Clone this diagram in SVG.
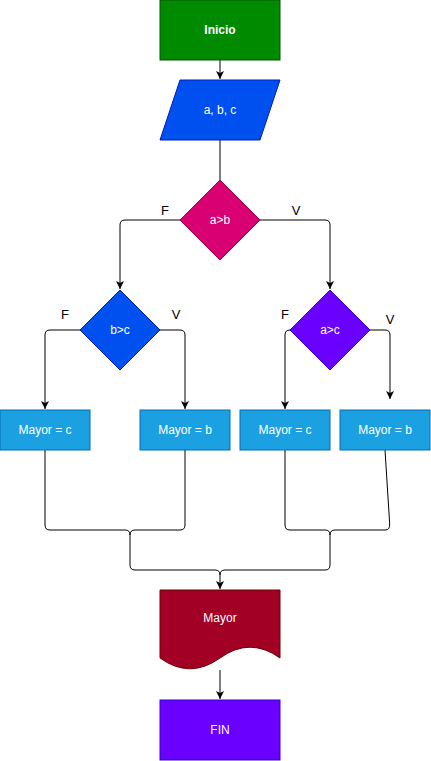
<svg xmlns="http://www.w3.org/2000/svg" width="431" height="761" viewBox="0 0 431 761">
<style>
.t{font-family:"Liberation Sans",Arial,sans-serif;font-size:12px;fill:#fff;text-anchor:middle;dominant-baseline:central}
.l{font-family:"Liberation Sans",Arial,sans-serif;font-size:13px;fill:#000;text-anchor:middle;dominant-baseline:central}
.e{fill:none;stroke:#000;stroke-width:1}
.box{fill:#1ba1e2;stroke:#006eaf}
</style>
<defs>
<marker id="ar" markerWidth="10" markerHeight="10" refX="8" refY="4" orient="auto" markerUnits="userSpaceOnUse">
<path d="M0,0 L8,4 L0,8 L2,4 Z" fill="#000"/>
</marker>
</defs>
<g id="connectors">
<path class="e" d="M220,60 V79" marker-end="url(#ar)"/>
<path class="e" d="M220,140 V180"/>
<path class="e" d="M180,220 H125 Q120,220 120,225 V289" marker-end="url(#ar)"/>
<path class="e" d="M260,220 H325 Q330,220 330,225 V289" marker-end="url(#ar)"/>
<path class="e" d="M80,330 H50 Q45,330 45,335 V409" marker-end="url(#ar)"/>
<path class="e" d="M160,330 H180 Q185,330 185,335 V409" marker-end="url(#ar)"/>
<path class="e" d="M290,330 Q285,330 285,335 V409" marker-end="url(#ar)"/>
<path class="e" d="M370,330 H385 Q390,330 390,335 V399" marker-end="url(#ar)"/>
<path class="e" d="M45,450 V525 Q45,530 50,530 H125 Q130,530 130,535 V565 Q130,570 135,570 H215 Q220,570 220,575 V589" marker-end="url(#ar)"/>
<path class="e" d="M185,450 V525 Q185,530 180,530 H135 Q130,530 130,535"/>
<path class="e" d="M285,450 V525 Q285,530 290,530 H325 Q330,530 330,535 V565 Q330,570 325,570 H225 Q220,570 220,575"/>
<path class="e" d="M385,450 L389.7,524 Q390,530 385,530 H335 Q330,530 330,535"/>
<path class="e" d="M220,670 V699" marker-end="url(#ar)"/>
</g>
<g id="inicio">
<rect x="160" y="0" width="120" height="60" fill="#008a00" stroke="#005700"/>
<text class="t" x="220" y="30" font-weight="bold">Inicio</text>
</g>
<g id="entrada">
<path d="M180,80 H280 L260,140 H160 Z" fill="#0050ef" stroke="#001dbc"/>
<text class="t" x="220" y="110">a, b, c</text>
</g>
<g id="d1">
<path d="M220,180 L260,220 L220,260 L180,220 Z" fill="#d80073" stroke="#a50040"/>
<text class="t" x="220" y="220">a&gt;b</text>
<text class="l" x="165" y="210">F</text>
<text class="l" x="296" y="210">V</text>
</g>
<g id="d2">
<path d="M120,290 L160,330 L120,370 L80,330 Z" fill="#0050ef" stroke="#001dbc"/>
<text class="t" x="120" y="330">b&gt;c</text>
<text class="l" x="65" y="314">F</text>
<text class="l" x="176" y="314">V</text>
</g>
<g id="d3">
<path d="M330,290 L370,330 L330,370 L290,330 Z" fill="#6a00ff" stroke="#3700cc"/>
<text class="t" x="330" y="330">a&gt;c</text>
<text class="l" x="285" y="314">F</text>
<text class="l" x="390" y="319">V</text>
</g>
<g id="b1">
<rect class="box" x="0" y="410" width="90" height="40"/>
<text class="t" x="45" y="430">Mayor = c</text>
</g>
<g id="b2">
<rect class="box" x="140" y="410" width="90" height="40"/>
<text class="t" x="185" y="430">Mayor = b</text>
</g>
<g id="b3">
<rect class="box" x="240" y="410" width="90" height="40"/>
<text class="t" x="285" y="430">Mayor = c</text>
</g>
<g id="b4">
<rect class="box" x="340" y="410" width="90" height="40"/>
<text class="t" x="385" y="430">Mayor = b</text>
</g>
<g id="salida">
<path d="M160,590 H280 V658 Q250,636.4 220,658 Q190,679.6 160,658 Z" fill="#a20025" stroke="#6f0000"/>
<text class="t" x="220" y="618">Mayor</text>
</g>
<g id="fin">
<rect x="160" y="700" width="120" height="60" fill="#6a00ff" stroke="#3700cc"/>
<text class="t" x="220" y="730">FIN</text>
</g>
</svg>
